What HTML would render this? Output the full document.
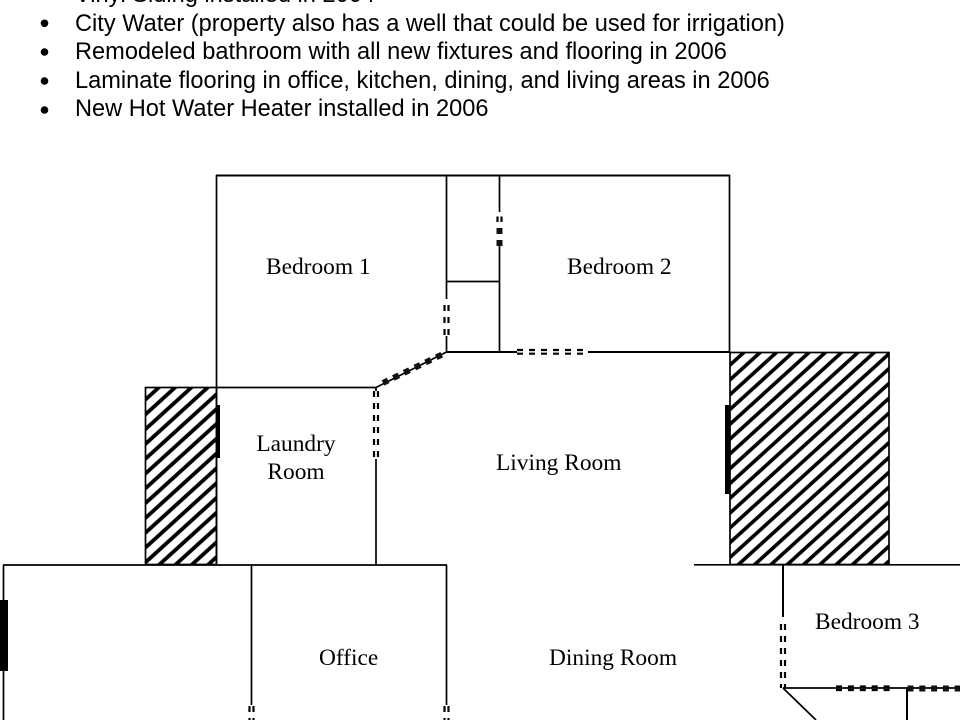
<!DOCTYPE html>
<html>
<head>
<meta charset="utf-8">
<style>
html,body{margin:0;padding:0;background:#fff;width:960px;height:720px;overflow:hidden}
svg{display:block}
.s{font-family:"Liberation Sans",sans-serif;font-size:23.6px;fill:#000}
.t{font-family:"Liberation Serif",serif;font-size:23.4px;fill:#000}
</style>
</head>
<body>
<svg width="960" height="720" viewBox="0 0 960 720" xmlns="http://www.w3.org/2000/svg">
<defs>
<pattern id="h" patternUnits="userSpaceOnUse" width="16.300" height="14.800" patternTransform="translate(730,350.200)">
<path d="M-8.150 22.200L24.450 -7.400M-8.150 7.400L8.150 -7.400M8.150 22.200L24.450 7.400" stroke="#000" stroke-width="3.600" fill="none"/>
</pattern>
<pattern id="h2" patternUnits="userSpaceOnUse" width="16.300" height="14.800" patternTransform="translate(145,385.200)">
<path d="M-8.150 22.200L24.450 -7.400M-8.150 7.400L8.150 -7.400M8.150 22.200L24.450 7.400" stroke="#000" stroke-width="3.800" fill="none"/>
</pattern>
</defs>
<text class="s" x="75" y="2">Vinyl Siding installed in 2004</text>
<text class="s" x="75" y="31">City Water (property also has a well that could be used for irrigation)</text>
<text class="s" x="75" y="59">Remodeled bathroom with all new fixtures and flooring in 2006</text>
<text class="s" x="75" y="88">Laminate flooring in office, kitchen, dining, and living areas in 2006</text>
<text class="s" x="75" y="116">New Hot Water Heater installed in 2006</text>
<g fill="#000">
<circle cx="44.500" cy="23.300" r="3.800"/><circle cx="44.500" cy="52" r="3.800"/><circle cx="44.500" cy="81" r="3.800"/><circle cx="44.500" cy="110" r="3.800"/>
</g>

<rect x="145.500" y="387.500" width="71" height="177" fill="url(#h2)" stroke="#000" stroke-width="1.700"/>
<rect x="730" y="352.500" width="159" height="212" fill="url(#h)" stroke="#000" stroke-width="1.700"/>

<g stroke="#000" stroke-width="1.700" fill="none">
<path d="M216 175.500H730" stroke-width="2"/>
<path d="M216.500 175V565"/>
<path d="M216 387.500H376.500"/>
<path d="M729.500 175V352.500"/>
<path d="M446.500 175V299"/>
<path d="M446.500 336V352"/>
<path d="M499.500 175V212"/>
<path d="M499.500 246V352"/>
<path d="M446 281.500H499.500"/>
<path d="M446 352H517" stroke-width="2"/>
<path d="M588 352H730" stroke-width="2"/>
<path d="M446.500 352L376 387.500"/>
<path d="M376 387V391"/>
<path d="M376 459V565"/>
<path d="M3 565H447"/>
<path d="M694 564.800H960"/>
<path d="M3.500 565V720"/>
<path d="M251.500 565V705"/>
<path d="M446.500 565V705"/>
<path d="M783 565V617" stroke-width="2"/>
<path d="M783 688H960"/>
<path d="M783 688L816 720"/>
<path d="M907 688V720" stroke-width="2"/>
</g>

<!-- door/window dashes -->
<g stroke="#000" fill="none" stroke-width="2.200">
<path d="M444.500 305V335M448.500 305V335" stroke-dasharray="6 6"/>
<path d="M497.500 216.500V222M501.500 216.500V222"/>
<path d="M374 391V458M378 391V458" stroke-dasharray="6 6"/>
<path d="M781 624V688M785 624V688" stroke-dasharray="6 6"/>
<path d="M517 350H584M517 353.700H584" stroke-dasharray="6 6"/>
<path d="M836 686.500H890M836 690H890" stroke-dasharray="6 5.900"/>
<path d="M249.500 706V720M253.500 706V720" stroke-dasharray="6 6"/>
<path d="M444.500 706V720M448.500 706V720" stroke-dasharray="6 6"/>
</g>
<g stroke="#111" fill="none">
<path d="M499.500 228V246" stroke-width="6" stroke-dasharray="6 6"/>
<path d="M441.700 354.700L383 382.900" stroke-width="6" stroke-dasharray="6 5.900"/>
<path d="M907.500 688.500H960" stroke-width="6" stroke-dasharray="6 5.800"/>
</g>

<g fill="#000">
<rect x="216" y="405" width="4" height="53"/>
<rect x="725" y="405" width="5" height="89"/>
<rect x="0" y="600" width="8" height="71"/>
</g>

<text class="t" x="266" y="274">Bedroom 1</text>
<text class="t" x="567" y="274">Bedroom 2</text>
<text class="t" x="296" y="451" text-anchor="middle">Laundry</text>
<text class="t" x="296" y="479" text-anchor="middle">Room</text>
<text class="t" x="496" y="470">Living Room</text>
<text class="t" x="815" y="629">Bedroom 3</text>
<text class="t" x="319" y="665">Office</text>
<text class="t" x="549" y="665">Dining Room</text>
</svg>
</body>
</html>
